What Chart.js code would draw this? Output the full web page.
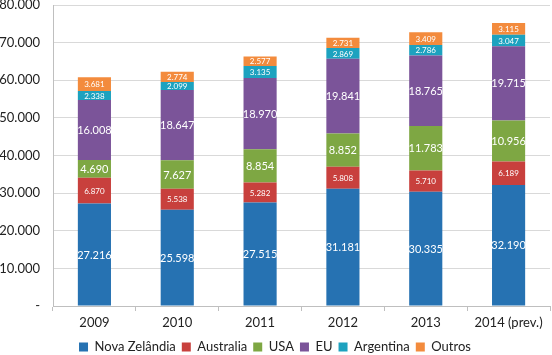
<!DOCTYPE html>
<html><head><meta charset="utf-8">
<script src="https://cdn.jsdelivr.net/npm/chart.js@4"></script>
<style>html,body{margin:0;padding:0;background:#fff}</style>
</head><body>
<canvas id="c" width="552" height="355"></canvas>
<script>
const categories = ["2009","2010","2011","2012","2013","2014 (prev.)"];
const novaZelandia = [27216,25598,27515,31181,30335,32190];
const australia = [6870,5538,5282,5808,5710,6189];
const usa = [4690,7627,8854,8852,11783,10956];
const eu = [16008,18647,18970,19841,18765,19715];
const argentina = [2338,2099,3135,2869,2786,3047];
const outros = [3681,2774,2577,2731,3409,3115];
const yTicks = [0,10000,20000,30000,40000,50000,60000,70000,80000];

const FONT = "Lato, 'Open Sans', sans-serif";
function fmt(v){ if(v===0) return '-'; return v.toString().replace(/\B(?=(\d{3})+(?!\d))/g,'.'); }

const series = [
  {label:'Nova Zelândia', data:novaZelandia, color:'#2672B2', big:true},
  {label:'Australia', data:australia, color:'#C8403D', big:false},
  {label:'USA', data:usa, color:'#7EA743', big:true},
  {label:'EU', data:eu, color:'#7B5499', big:true},
  {label:'Argentina', data:argentina, color:'#1DA2BF', big:false},
  {label:'Outros', data:outros, color:'#F38B3D', big:false}
];

const labelPlugin = {
  id:'segLabels',
  afterDatasetsDraw(chart){
    const ctx = chart.ctx;
    ctx.save();
    ctx.textAlign='center'; ctx.textBaseline='middle';
    ctx.fillStyle='#ffffff';
    chart.data.datasets.forEach((ds,i)=>{
      const meta = chart.getDatasetMeta(i);
      const big = series[i].big;
      ctx.font = (big? '11px ':'8px ') + FONT;
      meta.data.forEach((bar,j)=>{
        const y = (bar.y + bar.base)/2;
        ctx.fillText(fmt(ds.data[j]), bar.x, y+0.5);
      });
    });
    ctx.restore();
  }
};

new Chart(document.getElementById('c'),{
  type:'bar',
  data:{
    labels:categories,
    datasets:series.map(s=>({label:s.label,data:s.data,backgroundColor:s.color,borderWidth:0,categoryPercentage:1,barPercentage:0.4}))
  },
  options:{
    responsive:false, animation:false,
    layout:{padding:{top:5,right:2,left:0,bottom:-8.6}},
    plugins:{
      legend:{position:'bottom',labels:{boxWidth:9,boxHeight:9,padding:6,color:'#222',font:{family:FONT,size:13}}},
      tooltip:{enabled:false}
    },
    scales:{
      x:{stacked:true,
        grid:{drawOnChartArea:false,drawTicks:true,tickLength:5,color:'#BFBFBF',offset:true},
        border:{color:'#BFBFBF'},
        ticks:{color:'#222',font:{family:FONT,size:13},padding:4}
      },
      y:{stacked:true,min:0,max:80000,
        afterBuildTicks(scale){ scale.ticks = yTicks.map(v=>({value:v})); },
        afterFit(scale){ scale.width = 53; scale.paddingTop = 0; scale.paddingBottom = 0; },
        grid:{color:'#D9D9D9',drawTicks:false},
        border:{color:'#BFBFBF'},
        ticks:{color:'#222',font:{family:FONT,size:13},padding:13,callback:(v)=>fmt(v)}
      }
    }
  },
  plugins:[labelPlugin]
});
</script>
</body></html>
